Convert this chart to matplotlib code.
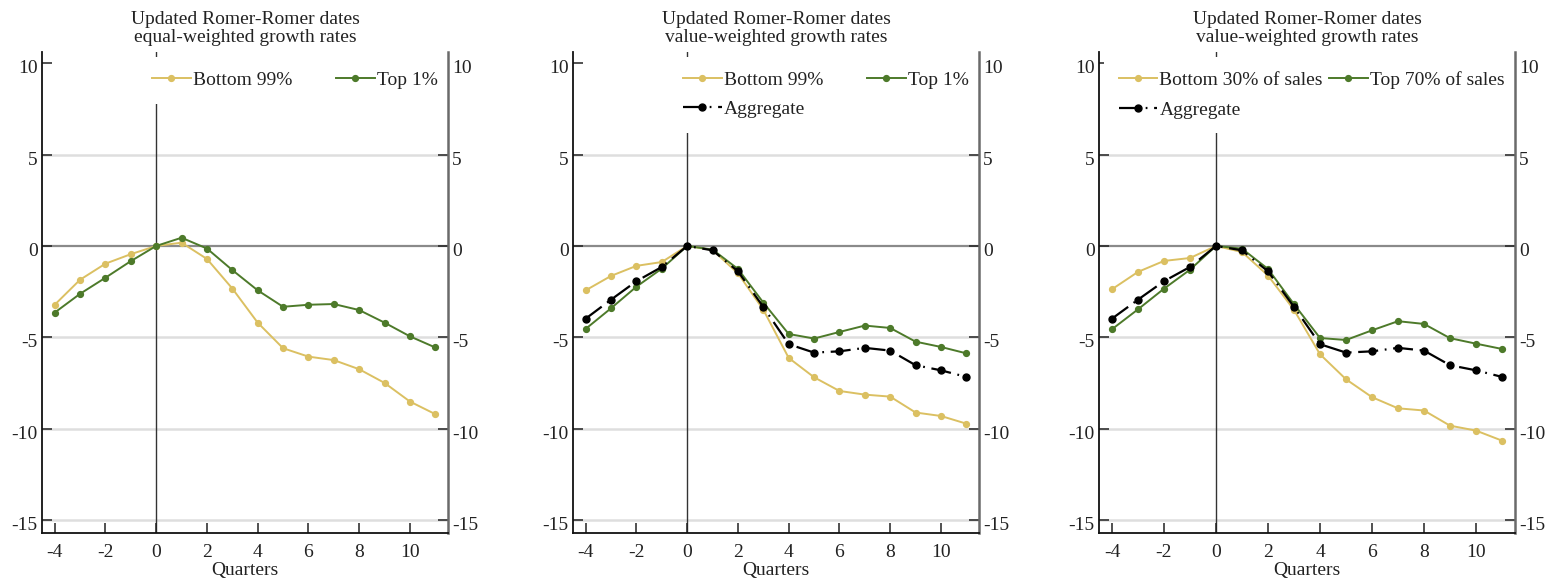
import matplotlib
matplotlib.use("Agg")
import matplotlib.pyplot as plt
import matplotlib.transforms as mtrans

plt.rcParams['font.family'] = ['Liberation Serif', 'DejaVu Serif']
plt.rcParams['axes.unicode_minus'] = False

# data (percent, relative to quarter 0)
quarters = [-4, -3, -2, -1, 0, 1, 2, 3, 4, 5, 6, 7, 8, 9, 10, 11]

ew_bottom99 = [-3.22, -1.85, -0.97, -0.45, 0.0, 0.18, -0.71, -2.33, -4.20, -5.60,
               -6.06, -6.25, -6.75, -7.50, -8.52, -9.21]
ew_top1 = [-3.65, -2.62, -1.74, -0.83, 0.0, 0.45, -0.14, -1.32, -2.43, -3.33,
           -3.22, -3.18, -3.51, -4.20, -4.95, -5.56]

vw_bottom99 = [-2.43, -1.64, -1.09, -0.88, 0.0, -0.22, -1.50, -3.49, -6.13, -7.19,
               -7.94, -8.14, -8.25, -9.12, -9.31, -9.73]
vw_top1 = [-4.54, -3.41, -2.23, -1.24, 0.0, -0.20, -1.26, -3.10, -4.82, -5.07,
           -4.71, -4.36, -4.49, -5.24, -5.53, -5.88]

aggregate = [-3.98, -2.94, -1.93, -1.15, 0.0, -0.24, -1.39, -3.34, -5.38, -5.84,
             -5.77, -5.58, -5.73, -6.53, -6.81, -7.17]

sales_bottom30 = [-2.37, -1.42, -0.82, -0.66, 0.0, -0.33, -1.62, -3.50, -5.93, -7.30,
                  -8.28, -8.89, -9.01, -9.84, -10.11, -10.66]
sales_top70 = [-4.56, -3.47, -2.34, -1.30, 0.0, -0.15, -1.26, -3.19, -5.04, -5.15,
               -4.62, -4.12, -4.27, -5.05, -5.35, -5.64]

titles = ["Updated Romer-Romer dates\nequal-weighted growth rates",
          "Updated Romer-Romer dates\nvalue-weighted growth rates",
          "Updated Romer-Romer dates\nvalue-weighted growth rates"]

yticks = [-15, -10, -5, 0, 5, 10]
xticks = [-4, -2, 0, 2, 4, 6, 8, 10]

YELLOW = '#dbc062'
GREEN = '#4d7a2a'
TXT = '#222222'

W, H = 1551, 580
fig = plt.figure(figsize=(W / 100, H / 100), dpi=100)

# axes boxes in pixels: (left, right)
boxes = [(42, 448), (573, 979), (1099, 1515)]
top_px, bot_px = 52, 532.5

panels = [
    [(ew_bottom99, 'Bottom 99%', YELLOW), (ew_top1, 'Top 1%', GREEN)],
    [(vw_bottom99, 'Bottom 99%', YELLOW), (vw_top1, 'Top 1%', GREEN), (aggregate, 'Aggregate', 'k')],
    [(sales_bottom30, 'Bottom 30% of sales', YELLOW), (sales_top70, 'Top 70% of sales', GREEN),
     (aggregate, 'Aggregate', 'k')],
]
leg_anchor = [(0.235, 0.99), (0.235, 0.99), (0.012, 0.99)]
col_space = [2.25, 2.25, 0.3]

for i, ((l, r), series) in enumerate(zip(boxes, panels)):
    ax = fig.add_axes([l / W, 1 - bot_px / H, (r - l) / W, (bot_px - top_px) / H])
    ax.set_xlim(-4.5, 11.5)
    ax.set_ylim(-15.69, 10.62)

    for y in [5, -5, -10, -15]:
        ax.axhline(y, color='#dedede', lw=1.8, zorder=0)
    ax.axhline(0, color='#8a8a8a', lw=1.6, zorder=1)
    ax.axvline(0, color='#333333', lw=1.0, zorder=1)

    handles = {}
    for vals, lab, col in series:
        if col == 'k':
            h, = ax.plot(quarters, vals, color='k', lw=1.6, ls=(0, (9, 3, 0.8, 3)),
                         marker='o', ms=5, label=lab, zorder=2.2)
        else:
            h, = ax.plot(quarters, vals, color=col, lw=1.4, marker='o', ms=4.2,
                         label=lab, zorder=2.1)
        handles[lab] = h

    ax.set_xticks(xticks)
    ax.set_xticklabels([str(t) for t in xticks])
    ax.set_yticks(yticks)
    ax.set_yticklabels([str(t) for t in yticks])
    ax.tick_params(axis='y', direction='in', left=True, right=True,
                   labelleft=True, labelright=True, length=7, width=1.1,
                   labelsize=14, pad=3, color=TXT, labelcolor=TXT)
    ax.tick_params(axis='x', direction='in', length=7.5, width=1.1,
                   labelsize=14, pad=8, color=TXT, labelcolor=TXT)
    # stata-like: labels sit a bit below their ticks
    shift = mtrans.ScaledTranslation(0, -3.5 / 100, fig.dpi_scale_trans)
    for t in ax.yaxis.get_major_ticks():
        t.label1.set_transform(t.label1.get_transform() + shift)
        t.label2.set_transform(t.label2.get_transform() + shift)

    ax.spines['top'].set_visible(False)
    ax.spines['left'].set_color('#111111')
    ax.spines['bottom'].set_color('#111111')
    ax.spines['right'].set_color('#6a6a6a')
    for s in ['left', 'bottom']:
        ax.spines[s].set_linewidth(1.3)
    ax.spines['right'].set_linewidth(1.8)

    ax.set_title(titles[i], fontsize=14, linespacing=1.1, pad=7, color=TXT)
    ax.set_xlabel('Quarters', fontsize=14, labelpad=1, color=TXT)

    # row-wise legend order (matplotlib fills columns first)
    labs = [s[1] for s in series]
    if len(labs) == 3:
        labs = [labs[0], labs[2], labs[1]]
    leg = ax.legend([handles[k] for k in labs], labs, loc='upper left',
                    bbox_to_anchor=leg_anchor[i], ncol=2,
                    fontsize=14, frameon=True, facecolor='white', edgecolor='none',
                    framealpha=1, fancybox=False, handlelength=2.0, handletextpad=0.1,
                    columnspacing=col_space[i], borderpad=0.75, labelspacing=0.6,
                    borderaxespad=0)
    # under the spines/tick labels, over the zero line
    leg.set_zorder(2.4)
    for t in leg.get_texts():
        t.set_color(TXT)

fig.savefig('out.png', dpi=100)
